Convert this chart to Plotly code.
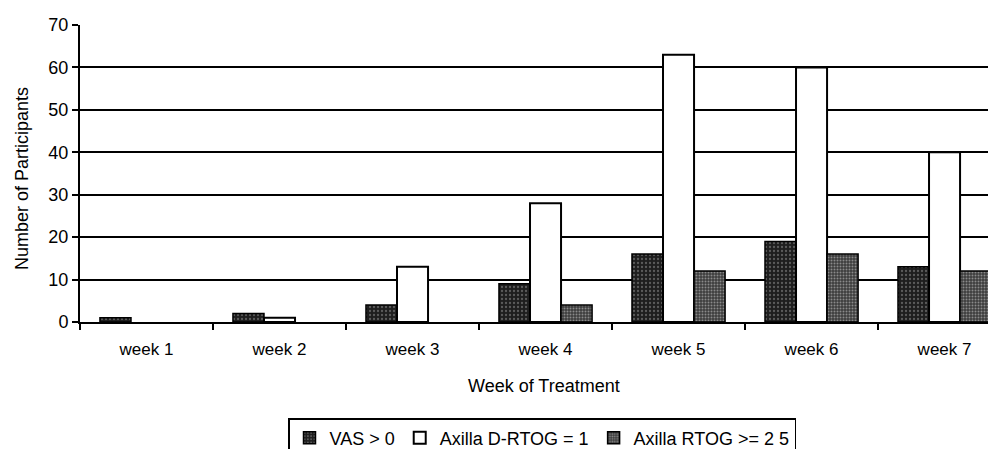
import plotly.graph_objects as go

weeks = ["week 1", "week 2", "week 3", "week 4", "week 5", "week 6", "week 7"]
vas = [1, 2, 4, 9, 16, 19, 13]
d_rtog = [0, 1, 13, 28, 63, 60, 40]
rtog = [0, 0, 0, 4, 12, 16, 12]

series_names = ["VAS > 0", "Axilla D-RTOG = 1", "Axilla RTOG >= 2 5"]
y_ticks = [0, 10, 20, 30, 40, 50, 60, 70]
x_title = "Week of Treatment"
y_title = "Number of Participants"

FONT = "Liberation Sans, Arial, sans-serif"
FS = 17


def nz(vals):
    # zero counts are drawn as no bar at all, as in the original
    return [v if v else None for v in vals]


fig = go.Figure()
fig.add_trace(go.Bar(
    x=weeks, y=nz(vas), name=series_names[0],
    marker=dict(color="#1e1e1e", line=dict(color="black", width=1.5),
                pattern=dict(shape=".", fgcolor="#9a9a9a", bgcolor="#1e1e1e",
                             size=4, solidity=0.25)),
))
fig.add_trace(go.Bar(
    x=weeks, y=nz(d_rtog), name=series_names[1],
    marker=dict(color="white", line=dict(color="black", width=2)),
))
fig.add_trace(go.Bar(
    x=weeks, y=nz(rtog), name=series_names[2],
    marker=dict(color="#3c3c3c", line=dict(color="black", width=1.5),
                pattern=dict(shape=".", fgcolor="#d8d8d8", bgcolor="#3c3c3c",
                             size=3, solidity=0.35)),
))

fig.update_layout(
    width=996, height=449,
    margin=dict(l=72, r=0, t=17, b=135, autoexpand=False),
    paper_bgcolor="white", plot_bgcolor="white",
    barmode="group", bargap=0.3, bargroupgap=0,
    font=dict(family=FONT, size=FS, color="black"),
    showlegend=True,
    legend=dict(
        orientation="h", xref="container", yref="container",
        x=534 / 996, xanchor="center", y=1 - 410 / 449, yanchor="top",
        bordercolor="black", borderwidth=1.5, bgcolor="white",
        font=dict(family=FONT, size=18, color="black"),
        itemwidth=30, tracegroupgap=0,
    ),
    annotations=[
        dict(text=y_title, textangle=-90, xref="paper", yref="paper",
             x=(14 - 72) / 924, y=(314 - 171) / 297, xanchor="center", yanchor="middle",
             showarrow=False, font=dict(family=FONT, size=18, color="black")),
        dict(text=x_title, xref="paper", yref="paper",
             x=(536 - 72) / 924, y=(314 - 378) / 297, xanchor="center", yanchor="middle",
             showarrow=False, font=dict(family=FONT, size=18, color="black")),
    ],
)
fig.update_xaxes(
    range=[-0.5, 6.447], automargin=False,
    showline=True, linecolor="black", linewidth=2,
    ticks="outside", tickson="boundaries", ticklen=6, tickwidth=2, tickcolor="black",
    ticklabelstandoff=11,
    tickfont=dict(family=FONT, size=FS, color="black"),
    showgrid=False,
)
fig.update_yaxes(
    range=[0, 70], tickvals=y_ticks, automargin=False,
    showline=True, linecolor="black", linewidth=2,
    ticks="outside", ticklen=6, tickwidth=2, tickcolor="black",
    showgrid=True, gridcolor="black", gridwidth=2,
    zeroline=False,
    tickfont=dict(family=FONT, size=18, color="black"),
)

fig.write_html("out.html")
